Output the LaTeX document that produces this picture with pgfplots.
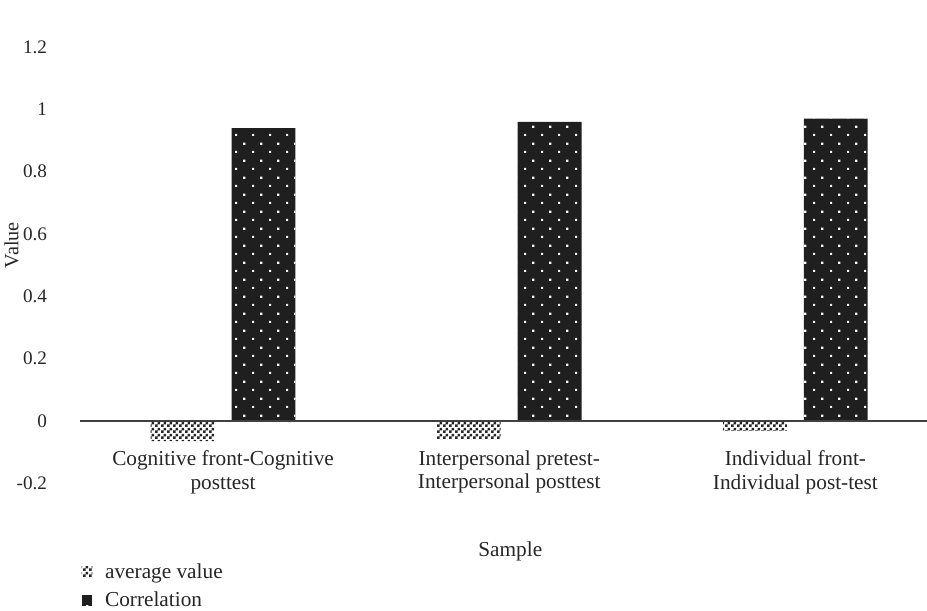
\documentclass[border=0pt]{standalone}
\usepackage{pgfplots}
\pgfplotsset{compat=1.18}
\usepackage{fontspec}
\setmainfont{Liberation Serif}
\usetikzlibrary{patterns}

% fine checker pattern for the average-value bars
\pgfdeclarepatternformonly{checkfine}{\pgfqpoint{0pt}{0pt}}{\pgfqpoint{2.6pt}{2.6pt}}{\pgfqpoint{2.6pt}{2.6pt}}{%
  \pgfpathrectangle{\pgfqpoint{0pt}{0pt}}{\pgfqpoint{1.3pt}{1.3pt}}%
  \pgfpathrectangle{\pgfqpoint{1.3pt}{1.3pt}}{\pgfqpoint{1.3pt}{1.3pt}}%
  \pgfusepath{fill}%
}
% staggered white dots laid over black for the correlation bars
\pgfdeclarepatternformonly{stagdots}{\pgfqpoint{0pt}{0pt}}{\pgfqpoint{7.8pt}{7.8pt}}{\pgfqpoint{7.8pt}{7.8pt}}{%
  \pgfpathrectangle{\pgfqpoint{1.5pt}{1.5pt}}{\pgfqpoint{1pt}{1pt}}%
  \pgfpathrectangle{\pgfqpoint{5.4pt}{5.4pt}}{\pgfqpoint{1pt}{1pt}}%
  \pgfusepath{fill}%
}

\begin{document}
\begin{tikzpicture}
\begin{axis}[
  scale only axis,
  width=398pt, height=205pt,
  ymin=-0.2, ymax=1.2,
  xmin=-0.5, xmax=2.46,
  ytick={-0.2,0,0.2,0.4,0.6,0.8,1,1.2},
  xtick={0,1,2},
  xticklabels={{Cognitive front-Cognitive\\posttest},{Interpersonal pretest-\\Interpersonal posttest},{Individual front-\\Individual post-test}},
  axis line style={draw=none},
  major tick length=0pt,
  /pgf/number format/assume math mode=true,
  tick label style={font=\fontsize{10}{11.2}\selectfont, text=black!85},
  yticklabel style={xshift=-12pt, font=\fontsize{9}{10}\selectfont},
  xticklabel style={align=center, yshift=19pt},
  ybar=8pt,
  bar width=30pt,
  clip=false,
  xlabel={Sample},
  ylabel={Value},
  label style={font=\fontsize{10}{12}\selectfont, text=black!85},
  xlabel style={at={(axis description cs:0.508,-0.156)}, anchor=center},
  ylabel style={at={(axis description cs:-0.081,0.546)}, anchor=center, font=\fontsize{9.5}{11}\selectfont},
  legend style={draw=none, at={(axis description cs:-0.001,-0.168)}, anchor=north west,
    font=\fontsize{10}{12}\selectfont, text=black!85, row sep=1pt, inner sep=1pt,
    nodes={inner xsep=6pt}},
  legend cell align=left,
  legend image code/.code={\path[#1] (0pt,-2.4pt) rectangle (5pt,2.6pt);},
]
\addplot[draw=none, pattern=checkfine, pattern color=black!85] coordinates {(0,-0.065) (1,-0.06) (2,-0.032)};
\addplot[draw=none, fill=black!88, postaction={pattern=stagdots, pattern color=white}] coordinates {(0,0.94) (1,0.96) (2,0.97)};
\legend{average value, Correlation}
\draw[black!75, line width=0.7pt] (axis cs:-0.5,0) -- (axis cs:2.46,0);
\end{axis}
\pgfresetboundingbox
\path ([xshift=-37.6pt,yshift=-59.7pt]current axis.south west) rectangle ([yshift=22.1pt]current axis.north east);
\end{tikzpicture}
\end{document}
